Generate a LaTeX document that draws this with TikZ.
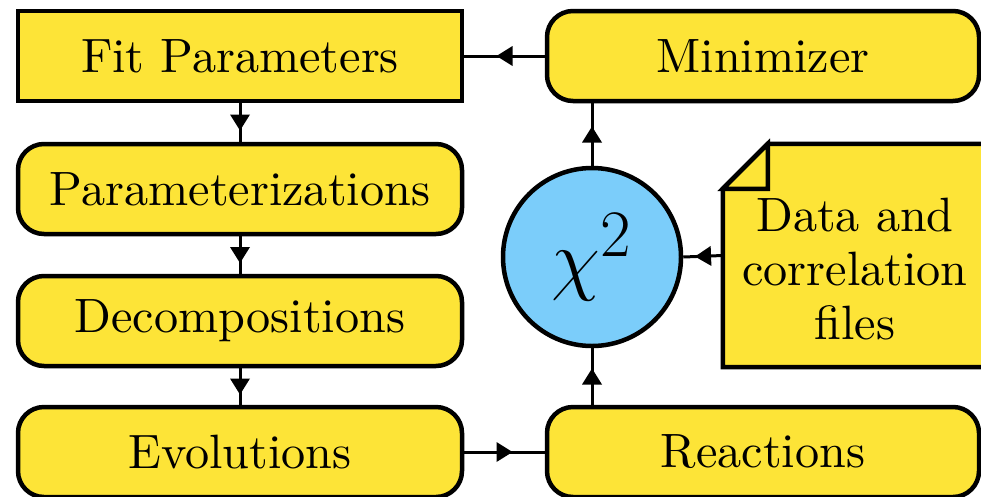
\documentclass[tikz,border=0pt]{standalone}
\usepackage{fontspec}
\usepackage{graphicx}
\usetikzlibrary{decorations.markings}
\definecolor{boxyellow}{RGB}{253,228,55}
\definecolor{chiblue}{RGB}{123,205,250}
\newcommand{\bigtxt}[1]{\scalebox{4.82}{\fontsize{10}{11.2}\selectfont #1}}
\tikzset{
  box/.style={draw=black, line width=4.5pt, fill=boxyellow, minimum width=444pt, minimum height=90pt,
    inner sep=0pt},
  rbox/.style={box, rounded corners=26pt},
  flow/.style={line width=3pt, postaction={decorate},
    decoration={markings, mark=at position 0.5 with {\fill (8pt,0pt) -- (-8pt,10pt) -- (-8pt,-10pt) -- cycle;}}}
}
\begin{document}
\begin{tikzpicture}[x=1pt,y=-1pt]
\useasboundingbox (0,0) rectangle (981,496);
\node[box] (fit) at (240,56) {\bigtxt{Fit Parameters}};
\node[rbox] (param) at (240,189) {\bigtxt{Parameterizations}};
\node[rbox] (decomp) at (240,321) {\bigtxt{Decompositions}};
\node[rbox] (evol) at (240,452) {\bigtxt{Evolutions}};
\node[rbox, minimum width=432pt] (mini) at (763,56) {\bigtxt{Minimizer}};
\node[rbox, minimum width=432pt] (reac) at (763,452) {\bigtxt{Reactions}};
\node[circle, draw=black, line width=4.5pt, fill=chiblue, minimum size=178pt, inner sep=0pt] (chi) at (592,257)
  {\scalebox{3.2}{\Huge$\chi^2$}};
\node[minimum width=267pt, minimum height=223pt, inner sep=0pt] (data) at (856.5,255.5) {};
\draw[line width=4.5pt, fill=boxyellow, line join=miter]
  ([xshift=45pt]data.north west) -- (data.north east) -- (data.south east) -- (data.south west)
  -- ([yshift=-45pt]data.north west) -- cycle;
\draw[line width=4.5pt, fill=boxyellow, line join=miter]
  ([xshift=45pt]data.north west) -- ([xshift=45pt,yshift=-45pt]data.north west)
  -- ([yshift=-45pt]data.north west) -- cycle;
\node[inner sep=0pt] (datatext) at (855,275)
  {\bigtxt{\begin{tabular}{@{}c@{}}Data and\\correlation\\files\end{tabular}}};
\draw[flow] (mini.west) -- (fit.east);
\draw[flow] (fit.south) -- (param.north);
\draw[flow] (param.south) -- (decomp.north);
\draw[flow] (decomp.south) -- (evol.north);
\draw[flow] (evol.east) -- (reac.west);
\draw[flow] (chi.south |- reac.north) -- (chi.south);
\draw[flow] (chi.north) -- (chi.north |- mini.south);
\draw[flow] (data.west) -- (chi.east);
\end{tikzpicture}
\end{document}
